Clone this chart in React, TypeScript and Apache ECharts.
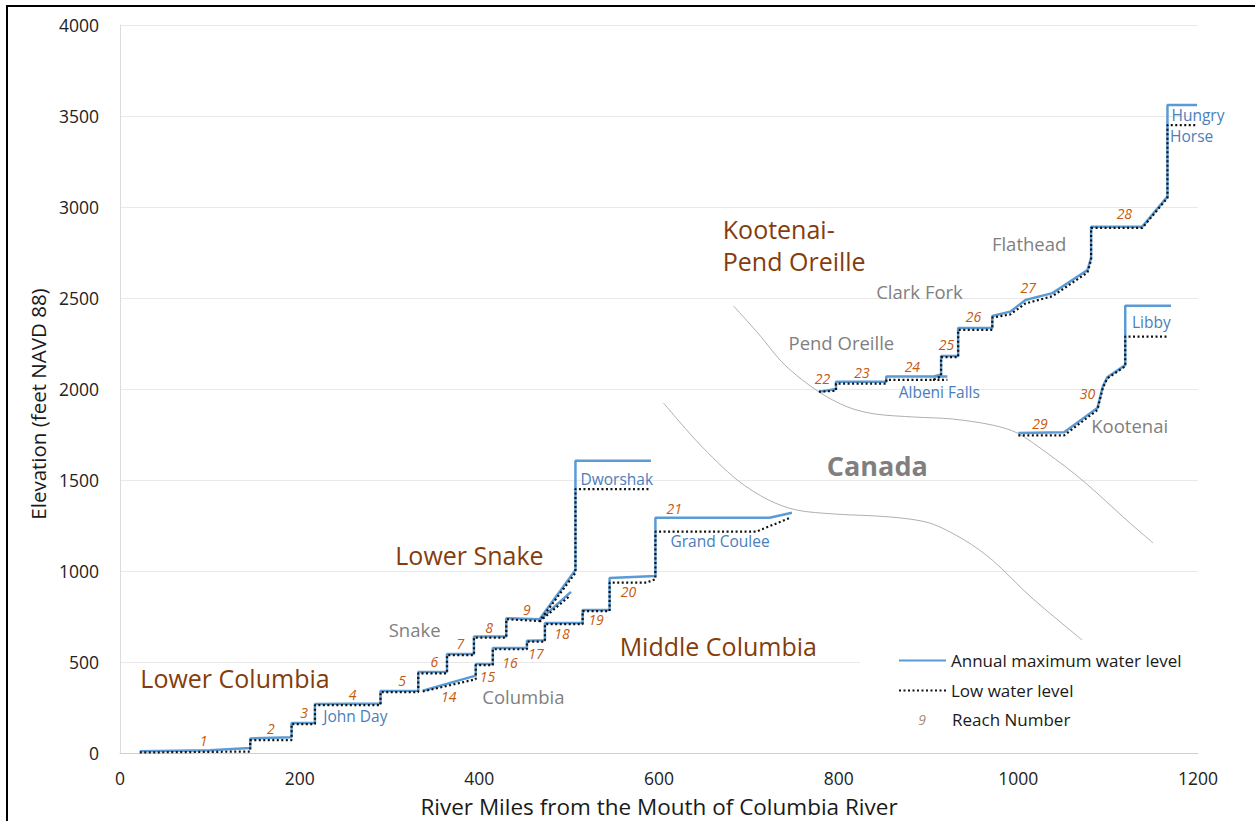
import React, { useEffect, useRef } from "react";
import * as echarts from "echarts";

const xTicks = { min: 0, max: 1200, interval: 200 };
const yTicks = { min: 0, max: 4000, interval: 500 };

// Annual maximum water level, one list per river branch
const maxMain = [[22,10],[100,15],[145,27],[145,80],[191,86],[191,165],[217,165],[217,269],[290,272],[290,340],[332,342],[332,445],[364,445],[364,544],[394,544],[394,640],[430,640],[430,741],[467,735],[507,1005],[507,1606],[591,1606]];
const maxSnake = [[467,730],[502,885]];
const maxColumbia = [[337,342],[396,425],[396,489],[415,489],[415,577],[453,577],[453,617],[473,620],[473,714],[515,714],[515,786],[545,786],[545,961],[596,972],[596,1293],[723,1293],[748,1320]];
const maxPend = [[778,1985],[797,2000],[797,2040],[853,2040],[853,2068],[905,2068],[914,2080],[914,2181],[933,2181],[933,2335],[971,2335],[971,2401],[991,2425],[1008,2489],[1038,2527],[1077,2654],[1081,2720],[1081,2892],[1138,2892],[1166,3057],[1166,3560],[1199,3560]];
const maxAlbeni = [[905,2068],[921,2068]];
const maxKootenai = [[1000,1758],[1051,1762],[1088,1895],[1094,2013],[1099,2065],[1119,2131],[1119,2458],[1170,2458]];

// Low water level, one list per river branch
const lowMain = [[22,3],[145,8],[145,71],[191,71],[191,159],[217,159],[217,263],[290,263],[290,335],[332,335],[332,438],[364,438],[364,538],[394,538],[394,634],[430,634],[430,735],[467,725],[507,990],[507,1450],[589,1450]];
const lowSnake = [[467,722],[500,860]];
const lowColumbia = [[337,338],[396,405],[396,483],[415,483],[415,570],[453,570],[453,612],[473,612],[473,708],[515,708],[515,780],[545,780],[545,936],[586,936],[596,955],[596,1216],[708,1216],[745,1290]];
const lowPend = [[778,1985],[797,1990],[797,2030],[853,2030],[853,2050],[905,2050],[914,2070],[914,2175],[933,2175],[933,2325],[971,2325],[971,2392],[991,2410],[1008,2470],[1038,2510],[1077,2640],[1081,2710],[1081,2885],[1138,2885],[1166,3050],[1166,3450],[1197,3450]];
const lowAlbeni = [[905,2050],[921,2050]];
const lowKootenai = [[1000,1745],[1051,1745],[1088,1885],[1094,2005],[1099,2058],[1119,2125],[1119,2288],[1166,2288]];

// Canada border curves
const borderUpper = [[683,2456],[710,2308],[740,2132],[778,1984],[810,1901],[840,1863],[884,1846],[927,1835],[971,1802],[999,1758],[1032,1648],[1071,1500],[1123,1269],[1150,1154]];
const borderLower = [[605,1923],[644,1703],[687,1500],[722,1390],[753,1335],[796,1313],[857,1297],[901,1264],[940,1170],[971,1060],[1014,857],[1071,621]];

// Annotations: [river mile, elevation, text]
const reachLabels = [[93,71,"1"],[168,137,"2"],[205,225,"3"],[259,324,"4"],[314,401,"5"],[350,505,"6"],[379,604,"7"],[411,692,"8"],[453,791,"9"],[366,313,"14"],[409,418,"15"],[434,495,"16"],[463,544,"17"],[492,654,"18"],[530,736,"19"],[566,885,"20"],[617,1346,"21"],[782,2055,"22"],[826,2093,"23"],[882,2126,"24"],[920,2242,"25"],[950,2396,"26"],[1011,2555,"27"],[1118,2962,"28"],[1024,1808,"29"],[1077,1973,"30"]];
const regionLabels = [[128,412,"Lower Columbia"],[389,1088,"Lower Snake"],[666,588,"Middle Columbia"]];
const regionLabelsLeft = [[671,2791,"Kootenai-\nPend Oreille"]];
const riverLabels = [[328,681,"Snake"],[449,308,"Columbia"],[1012,2797,"Flathead"],[890,2538,"Clark Fork"],[803,2258,"Pend Oreille"],[1124,1797,"Kootenai"]];
const damLabels = [[262,203,"John Day"],[553,1505,"Dworshak"],[668,1165,"Grand Coulee"],[912,1984,"Albeni Falls"],[1148,2368,"Libby"],[1200,3505,"Hungry"],[1193,3390,"Horse"]];
const countryLabels = [[843,1577,"Canada"]];

const FONT = "Open Sans";

function join(...parts: number[][][]) {
  const out: (number | null)[][] = [];
  parts.forEach((p, i) => {
    if (i) out.push([null, null]);
    out.push(...p);
  });
  return out;
}

function textSeries(name: string, data: any[], label: any) {
  return {
    name,
    type: "scatter",
    data,
    symbolSize: 1,
    itemStyle: { color: "transparent", opacity: 1 },
    z: 5,
    silent: true,
    label: {
      show: true,
      position: "inside",
      align: "center",
      verticalAlign: "middle",
      fontFamily: FONT,
      opacity: 1,
      formatter: (p: any) => p.data[2],
      ...label,
    },
  };
}

export default function App() {
  const ref = useRef<HTMLDivElement>(null);
  useEffect(() => {
    const chart = echarts.init(ref.current!, undefined, { renderer: "svg" });
    chart.setOption({
      animation: false,
      backgroundColor: "#fff",
      grid: { left: 120, top: 25, width: 1078, height: 728, outerBoundsMode: "none" },
      xAxis: {
        type: "value",
        ...xTicks,
        name: "River Miles from the Mouth of Columbia River",
        nameLocation: "middle",
        nameGap: 42,
        nameTextStyle: { fontFamily: FONT, fontSize: 22.5, color: "#1a1a1a" },
        axisLine: { lineStyle: { color: "#cfcfcf", width: 1 } },
        axisTick: { show: false },
        axisLabel: { fontFamily: FONT, fontSize: 17.5, color: "#222", margin: 16, formatter: (v: number) => String(v) },
        splitLine: { show: false },
      },
      yAxis: {
        type: "value",
        ...yTicks,
        name: "Elevation (feet NAVD 88)",
        nameLocation: "middle",
        nameGap: 72,
        nameTextStyle: { fontFamily: FONT, fontSize: 20.5, color: "#1a1a1a", padding: [0, 30, 0, 0] },
        axisLine: { show: true, lineStyle: { color: "#dcdcdc", width: 1 } },
        axisTick: { show: false },
        axisLabel: { fontFamily: FONT, fontSize: 17.5, color: "#222", margin: 21, formatter: (v: number) => String(v) },
        splitLine: { lineStyle: { color: "#e9e9e9", width: 1 } },
      },
      legend: {
        left: 898,
        top: 652,
        orient: "vertical",
        data: ["Annual maximum water level", "Low water level"],
        itemWidth: 47,
        itemHeight: 16,
        itemGap: 13,
        padding: 0,
        itemStyle: { opacity: 0 },
        textStyle: { fontFamily: FONT, fontSize: 17, color: "#1a1a1a" },
        selectedMode: false,
      },
      graphic: [
        { type: "rect", z: 1, silent: true, shape: { x: 860, y: 646, width: 338, height: 100 }, style: { fill: "#fff" } },
        { type: "polyline", z: 100, silent: true, shape: { points: [[7, 821], [7, 6], [1255, 6]] }, style: { fill: "none", stroke: "#000", lineWidth: 2 } },
        { type: "text", z: 100, x: 922, y: 719, style: { text: "9", fontFamily: FONT, fontStyle: "italic", fontSize: 14, fill: "#a98b80", align: "center", verticalAlign: "middle" } },
        { type: "text", z: 100, x: 952, y: 719, style: { text: "Reach Number", fontFamily: FONT, fontSize: 17, fill: "#1a1a1a", align: "left", verticalAlign: "middle" } },
      ],
      series: [
        { name: "Border upper", type: "line", data: borderUpper, smooth: 0.3, symbol: "none", silent: true, z: 2, lineStyle: { color: "#9a9a9a", width: 0.8 } },
        { name: "Border lower", type: "line", data: borderLower, smooth: 0.3, symbol: "none", silent: true, z: 2, lineStyle: { color: "#9a9a9a", width: 0.8 } },
        { name: "Annual maximum water level", type: "line", data: join(maxMain, maxSnake, maxColumbia, maxPend, maxAlbeni, maxKootenai), connectNulls: false, symbol: "none", z: 3, itemStyle: { color: "#5b9bd5" }, lineStyle: { color: "#5b9bd5", width: 2.5 } },
        { name: "Low water level", type: "line", data: join(lowMain, lowSnake, lowColumbia, lowPend, lowAlbeni, lowKootenai), connectNulls: false, symbol: "none", z: 4, itemStyle: { color: "#000" }, lineStyle: { color: "#111", width: 2.2, type: [2, 2.5] } },
        textSeries("Reach labels", reachLabels, { fontSize: 14, fontStyle: "italic", color: "#c55a11" }),
        textSeries("Region labels", regionLabels, { fontSize: 25, color: "#843c0c" }),
        textSeries("Region labels left", regionLabelsLeft, { fontSize: 25, color: "#843c0c", align: "left", lineHeight: 32 }),
        textSeries("River labels", riverLabels, { fontSize: 18.5, color: "#7f7f7f" }),
        textSeries("Dam labels", damLabels, { fontSize: 15.5, lineHeight: 17, color: "#4a7ebb" }),
        textSeries("Country labels", countryLabels, { fontSize: 27, fontWeight: "bold", color: "#7f7f7f" }),
      ],
    });
    return () => chart.dispose();
  }, []);
  return <div ref={ref} style={{ position: "fixed", left: 0, top: 0, width: 1255, height: 821 }} />;
}
